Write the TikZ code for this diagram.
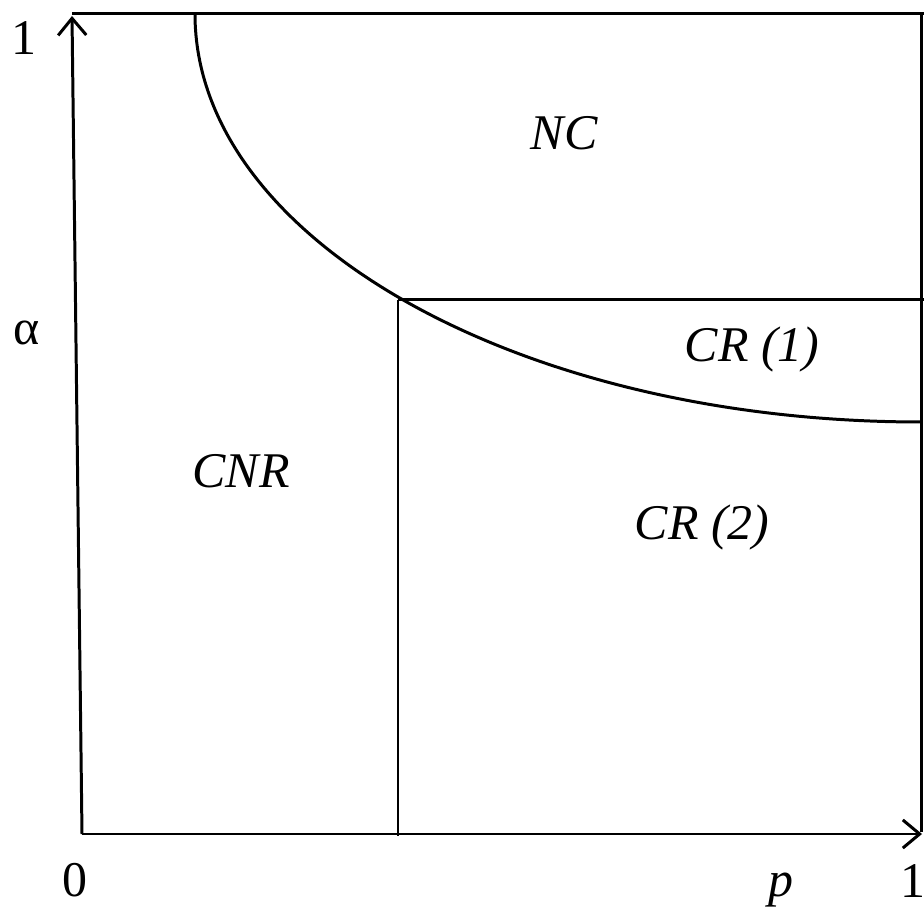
\documentclass[tikz,border=0pt]{standalone}
\usepackage{fontspec}
\setmainfont{Liberation Serif}
\usetikzlibrary{arrows.meta}

\begin{document}
\begin{tikzpicture}[x=0.01cm, y=0.01cm, line width=0.85pt,
  region/.style={font=\fontsize{14.2}{16}\selectfont\itshape, anchor=base, inner sep=0pt},
  ticklabel/.style={font=\fontsize{14.2}{16}\selectfont, anchor=base, inner sep=0pt},
  axisarrow/.style={-{Straight Barb[length=4.8pt, width=8pt]}}]
\useasboundingbox (0,0) rectangle (924,912);

% ── Axes ──────────────────────────────────────────────────────────────────────
\coordinate (O)    at (82,78);
\coordinate (ytop) at (72,896);
\coordinate (xend) at (922,78);
\draw[axisarrow] (O) -- (ytop);
\draw[axisarrow] (O) -- (xend);

% ── Frame ─────────────────────────────────────────────────────────────────────
\coordinate (tl) at (72,898);
\coordinate (tr) at (924,898);
\coordinate (br) at (921,80);
\draw (tl) -- (tr);
\draw (921,898) -- (br);

% ── Boundaries ────────────────────────────────────────────────────────────────
\coordinate (arcstart) at (195,898);
\draw (arcstart) arc[start angle=180, end angle=270, x radius=726, y radius=408];

\coordinate (P)   at (398,612);
\coordinate (Pb)  at (398,76);
\coordinate (Pr)  at (924,612);
\draw (P) -- (Pb);
\draw (P) -- (Pr);

% ── Regions ───────────────────────────────────────────────────────────────────
\node[region] (nc)  at (564,762) {NC};
\node[region] (cr1) at (752,550) {CR (1)};
\node[region] (cnr) at (241,424) {CNR};
\node[region] (cr2) at (702,372) {CR (2)};

% ── Axis labels ───────────────────────────────────────────────────────────────
\node[ticklabel] (yone)  at (24,857) {1};
\node[ticklabel] (alpha) at (27,567) {α};
\node[ticklabel] (zero)  at (75,15)  {0};
\node[region]    (p)     at (781,15) {p};
\node[ticklabel] (xone)  at (913,14) {1};

\end{tikzpicture}
\end{document}
